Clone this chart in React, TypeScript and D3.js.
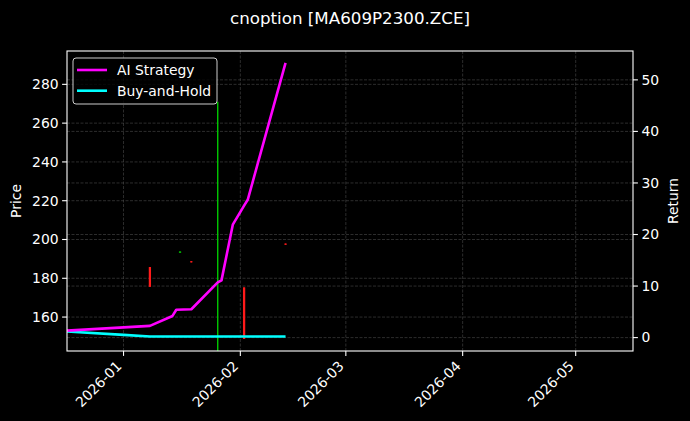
import { useEffect, useRef } from 'react';
import * as d3 from 'd3';

// equity curves (return axis)
const aiDates = ['2025-12-17', '2026-01-08', '2026-01-14', '2026-01-15', '2026-01-19', '2026-01-26', '2026-01-27', '2026-01-30', '2026-02-02', '2026-02-03', '2026-02-13'];
const aiReturn = [1.36, 2.27, 4.2, 5.4, 5.5, 10.7, 11.1, 21.9, 25.6, 26.8, 53.3];
const bhDates = ['2025-12-17', '2026-01-01', '2026-01-08', '2026-02-13'];
const bhReturn = [1.17, 0.52, 0.2, 0.2];

// option candles (price axis)
const candleDates = ['2026-01-08', '2026-01-16', '2026-01-19', '2026-01-26', '2026-02-02', '2026-02-13'];
const candleOpen = [185.8, 193.2, 188.8, 177.5, 175.3, 197.9];
const candleClose = [175.6, 193.8, 188.2, 178.0, 148.7, 197.3];
const candleHigh = [185.8, 193.8, 188.8, 271.0, 175.3, 197.9];
const candleLow = [175.6, 193.2, 188.2, 140.0, 148.7, 197.3];

const xDomain = ['2025-12-17T00:00', '2026-05-16T05:00'];
const priceDomain = [142.5, 297.2];
const returnDomain = [-2.6, 55.6];
const priceTicks = [160, 180, 200, 220, 240, 260, 280];
const returnTicks = [0, 10, 20, 30, 40, 50];
const monthTicks = ['2026-01-01', '2026-02-01', '2026-03-01', '2026-04-01', '2026-05-01'];

const W = 690;
const H = 421;
const FONT = 'DejaVu Sans, sans-serif';

export default function App() {
    const svgRef = useRef<SVGSVGElement>(null);

    useEffect(() => {
        if (!svgRef.current) return;
        document.body.style.margin = '0';
        document.body.style.background = '#000';

        const svg = d3.select(svgRef.current);
        svg.selectAll('*').remove();

        const margin = { top: 51, right: 57, bottom: 70, left: 67 };
        const left = margin.left;
        const right = W - margin.right;
        const top = margin.top;
        const bottom = H - margin.bottom;

        const parse = (s: string) => new Date(s.length > 10 ? s : s + 'T00:00');

        const x = d3.scaleTime()
            .domain(xDomain.map(parse))
            .range([left, right]);
        const yP = d3.scaleLinear().domain(priceDomain).range([bottom, top]);
        const yR = d3.scaleLinear().domain(returnDomain).range([bottom, top]);

        svg.append('rect').attr('width', W).attr('height', H).attr('fill', '#000');

        const clipId = 'plot-clip';
        svg.append('clipPath').attr('id', clipId)
            .append('rect')
            .attr('x', left).attr('y', top)
            .attr('width', right - left).attr('height', bottom - top);

        // Grid
        const grid = svg.append('g')
            .attr('stroke', '#4a4a4a')
            .attr('stroke-width', 0.6)
            .attr('stroke-dasharray', '3,1.5');
        monthTicks.forEach(t => {
            const px = x(parse(t));
            grid.append('line').attr('x1', px).attr('x2', px).attr('y1', top).attr('y2', bottom);
        });
        priceTicks.forEach(t => {
            grid.append('line').attr('x1', left).attr('x2', right).attr('y1', yP(t)).attr('y2', yP(t));
        });
        returnTicks.forEach(t => {
            grid.append('line').attr('x1', left).attr('x2', right).attr('y1', yR(t)).attr('y2', yR(t));
        });

        const plot = svg.append('g').attr('clip-path', `url(#${clipId})`);

        // Candles
        const candleW = 0.6 * 24 * 3600 * 1000;
        candleDates.forEach((d, i) => {
            const t = parse(d);
            const up = candleClose[i] >= candleOpen[i];
            const color = up ? '#00c800' : '#ff1a1a';
            const cx = x(t);
            plot.append('line')
                .attr('x1', cx).attr('x2', cx)
                .attr('y1', yP(candleHigh[i])).attr('y2', yP(candleLow[i]))
                .attr('stroke', color).attr('stroke-width', 1.4);
            const x0 = x(new Date(t.getTime() - candleW / 2));
            const x1 = x(new Date(t.getTime() + candleW / 2));
            const yTop = yP(Math.max(candleOpen[i], candleClose[i]));
            const yBot = yP(Math.min(candleOpen[i], candleClose[i]));
            plot.append('rect')
                .attr('x', x0).attr('width', x1 - x0)
                .attr('y', yTop).attr('height', Math.max(yBot - yTop, 1))
                .attr('fill', color);
        });

        // Equity lines
        const line = d3.line<[Date, number]>()
            .x(d => x(d[0]))
            .y(d => yR(d[1]));

        plot.append('path')
            .datum(bhDates.map((d, i) => [parse(d), bhReturn[i]] as [Date, number]))
            .attr('fill', 'none')
            .attr('stroke', '#00ffff')
            .attr('stroke-width', 2.6)
            .attr('stroke-linejoin', 'round')
            .attr('d', line);

        plot.append('path')
            .datum(aiDates.map((d, i) => [parse(d), aiReturn[i]] as [Date, number]))
            .attr('fill', 'none')
            .attr('stroke', '#ff00ff')
            .attr('stroke-width', 2.6)
            .attr('stroke-linejoin', 'round')
            .attr('d', line);

        // Frame
        svg.append('rect')
            .attr('x', left).attr('y', top)
            .attr('width', right - left).attr('height', bottom - top)
            .attr('fill', 'none').attr('stroke', '#fff').attr('stroke-width', 1.1);

        // Axes
        const tickLen = 4.9;
        const xAxis = svg.append('g');
        monthTicks.forEach(t => {
            const px = x(parse(t));
            xAxis.append('line').attr('x1', px).attr('x2', px)
                .attr('y1', bottom).attr('y2', bottom + tickLen)
                .attr('stroke', '#fff').attr('stroke-width', 1.1);
            xAxis.append('text')
                .attr('transform', `translate(${px - 1},${bottom + 16}) rotate(-45)`)
                .attr('text-anchor', 'end')
                .attr('fill', '#fff')
                .attr('font-family', FONT)
                .attr('font-size', 13.9)
                .text(d3.timeFormat('%Y-%m')(parse(t)));
        });

        const yAxisL = svg.append('g');
        priceTicks.forEach(t => {
            yAxisL.append('line').attr('x1', left - tickLen).attr('x2', left)
                .attr('y1', yP(t)).attr('y2', yP(t))
                .attr('stroke', '#fff').attr('stroke-width', 1.1);
            yAxisL.append('text')
                .attr('x', left - tickLen - 3.5).attr('y', yP(t))
                .attr('dy', '0.35em')
                .attr('text-anchor', 'end')
                .attr('fill', '#fff')
                .attr('font-family', FONT)
                .attr('font-size', 13.9)
                .text(t);
        });

        const yAxisR = svg.append('g');
        returnTicks.forEach(t => {
            yAxisR.append('line').attr('x1', right).attr('x2', right + tickLen)
                .attr('y1', yR(t)).attr('y2', yR(t))
                .attr('stroke', '#fff').attr('stroke-width', 1.1);
            yAxisR.append('text')
                .attr('x', right + tickLen + 3.5).attr('y', yR(t))
                .attr('dy', '0.35em')
                .attr('fill', '#fff')
                .attr('font-family', FONT)
                .attr('font-size', 13.9)
                .text(t);
        });

        // Axis labels
        const midY = (top + bottom) / 2;
        svg.append('text')
            .attr('transform', `translate(21,${midY}) rotate(-90)`)
            .attr('text-anchor', 'middle')
            .attr('fill', '#fff').attr('font-family', FONT).attr('font-size', 13.9)
            .text('Price');
        svg.append('text')
            .attr('transform', `translate(678,${midY}) rotate(-90)`)
            .attr('text-anchor', 'middle')
            .attr('fill', '#fff').attr('font-family', FONT).attr('font-size', 13.9)
            .text('Return');

        // Title
        svg.append('text')
            .attr('x', (left + right) / 2).attr('y', 24)
            .attr('text-anchor', 'middle')
            .attr('fill', '#fff').attr('font-family', FONT).attr('font-size', 16.7)
            .text('cnoption [MA609P2300.ZCE]');

        // Legend
        const legend = svg.append('g');
        legend.append('rect')
            .attr('x', 73).attr('y', 58).attr('width', 144).attr('height', 46)
            .attr('rx', 3)
            .attr('fill', '#000').attr('fill-opacity', 0.8)
            .attr('stroke', '#cccccc').attr('stroke-width', 1);
        const entries = [
            { label: 'AI Strategy', color: '#ff00ff' },
            { label: 'Buy-and-Hold', color: '#00ffff' },
        ];
        entries.forEach((e, i) => {
            const ly = 70 + i * 20.7;
            legend.append('line')
                .attr('x1', 77).attr('x2', 107).attr('y1', ly).attr('y2', ly)
                .attr('stroke', e.color).attr('stroke-width', 2.6);
            legend.append('text')
                .attr('x', 117).attr('y', ly).attr('dy', '0.35em')
                .attr('fill', '#fff').attr('font-family', FONT).attr('font-size', 13.9)
                .text(e.label);
        });
    }, []);

    return <svg ref={svgRef} width={W} height={H} style={{ display: 'block' }} />;
}
